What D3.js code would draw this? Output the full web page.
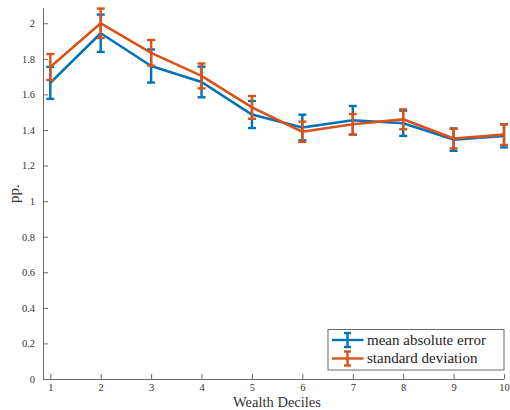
<!DOCTYPE html>
<html><head><meta charset="utf-8">
<script src="https://cdn.jsdelivr.net/npm/d3@7"></script>
<style>html,body{margin:0;padding:0;background:#fff;}svg{display:block;}
text{font-family:"Liberation Serif","DejaVu Serif",serif;}</style>
</head><body>
<script>
const deciles = [1,2,3,4,5,6,7,8,9,10];
const maeValues = [1.665, 1.944, 1.760, 1.670, 1.487, 1.414, 1.455, 1.438, 1.346, 1.367];
const maeErrors = [0.090, 0.105, 0.093, 0.086, 0.076, 0.072, 0.080, 0.071, 0.063, 0.065];
const sdValues  = [1.754, 2.000, 1.834, 1.704, 1.527, 1.390, 1.432, 1.460, 1.352, 1.374];
const sdErrors  = [0.073, 0.083, 0.072, 0.070, 0.064, 0.057, 0.058, 0.056, 0.055, 0.058];
const yTicks = [0,0.2,0.4,0.6,0.8,1,1.2,1.4,1.6,1.8,2];
const xTicks = [1,2,3,4,5,6,7,8,9,10];
const seriesNames = ["mean absolute error","standard deviation"];
const seriesColors = ["#0072BD","#D95319"];

const W=510,H=410;
const svg=d3.select("body").append("svg").attr("width",W).attr("height",H);
const x=d3.scaleLinear().domain([0.855,10]).range([43,504]);
const y=d3.scaleLinear().domain([0,2.086]).range([379,8]);
const font="Liberation Serif";
const axisColor="#6b6b6b";

// axes
const xAxis=svg.append("g").attr("transform","translate(0,379)")
  .call(d3.axisBottom(x).tickValues(xTicks).tickSize(-5).tickPadding(5).tickFormat(d3.format("d")));
const yAxis=svg.append("g").attr("transform","translate(43,0)")
  .call(d3.axisLeft(y).tickValues(yTicks).tickSize(-5).tickPadding(8).tickFormat(d=>String(+d.toFixed(1))));
[xAxis,yAxis].forEach(g=>{
  g.attr("font-family",font).attr("font-size",10.5);
  g.select(".domain").attr("stroke",axisColor).attr("stroke-width",1);
  g.selectAll(".tick line").attr("stroke",axisColor).attr("stroke-width",1);
  g.selectAll(".tick text").attr("fill","#333");
});
xAxis.select(".domain").attr("d","M43,0.5H504");
yAxis.select(".domain").attr("d","M0.5,379V8");

// labels
svg.append("text").attr("x",277).attr("y",407).attr("text-anchor","middle")
  .attr("font-family",font).attr("font-size",14.5).attr("fill","#333").text("Wealth Deciles");
svg.append("text").attr("transform","translate(19,193.5) rotate(-90)").attr("text-anchor","middle")
  .attr("font-family",font).attr("font-size",15).attr("fill","#333").text("pp.");

// series
const series=[
  {vals:maeValues,errs:maeErrors,color:seriesColors[0]},
  {vals:sdValues,errs:sdErrors,color:seriesColors[1]}
];
const line=d3.line().x((d,i)=>x(deciles[i])).y(d=>y(d));
const cap=4;
series.forEach(s=>{
  const g=svg.append("g");
  g.append("path").attr("d",line(s.vals)).attr("fill","none").attr("stroke",s.color)
    .attr("stroke-width",2.6).attr("stroke-linejoin","round");
  s.vals.forEach((v,i)=>{
    const cx=x(deciles[i]), t=y(v+s.errs[i]), b=y(v-s.errs[i]);
    g.append("line").attr("x1",cx).attr("x2",cx).attr("y1",t).attr("y2",b).attr("stroke",s.color).attr("stroke-width",2.4);
    g.append("line").attr("x1",cx-cap).attr("x2",cx+cap).attr("y1",t).attr("y2",t).attr("stroke",s.color).attr("stroke-width",2.4);
    g.append("line").attr("x1",cx-cap).attr("x2",cx+cap).attr("y1",b).attr("y2",b).attr("stroke",s.color).attr("stroke-width",2.4);
  });
});

// legend
const lg=svg.append("g");
lg.append("rect").attr("x",328).attr("y",329.5).attr("width",176).attr("height",40.5)
  .attr("fill","#fff").attr("stroke",axisColor).attr("stroke-width",1);
seriesNames.forEach((n,i)=>{
  const cy=340+i*18.5, c=seriesColors[i];
  lg.append("line").attr("x1",332).attr("x2",363.5).attr("y1",cy).attr("y2",cy).attr("stroke",c).attr("stroke-width",2.4);
  lg.append("line").attr("x1",347.5).attr("x2",347.5).attr("y1",cy-7).attr("y2",cy+7).attr("stroke",c).attr("stroke-width",2.4);
  lg.append("line").attr("x1",344).attr("x2",351).attr("y1",cy-7).attr("y2",cy-7).attr("stroke",c).attr("stroke-width",2.4);
  lg.append("line").attr("x1",344).attr("x2",351).attr("y1",cy+7).attr("y2",cy+7).attr("stroke",c).attr("stroke-width",2.4);
  lg.append("text").attr("x",367).attr("y",cy+4.5).attr("font-family",font).attr("font-size",15)
    .attr("fill","#222").text(n);
});
</script>
</body></html>
